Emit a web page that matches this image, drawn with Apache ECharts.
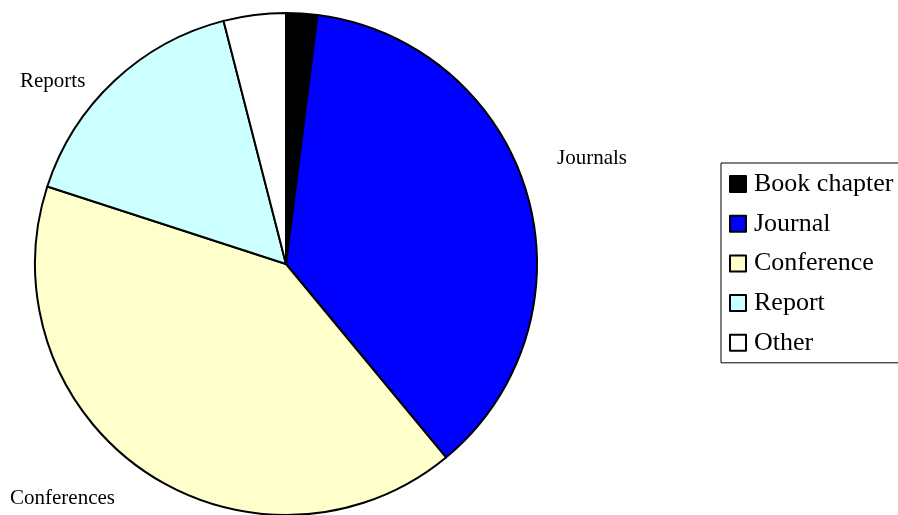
<!DOCTYPE html>
<html>
<head>
<meta charset="utf-8">
<script src="https://cdn.jsdelivr.net/npm/echarts@6/dist/echarts.min.js"></script>
<style>
  html, body { margin: 0; padding: 0; background: #fff; }
  #main { width: 898px; height: 515px; }
</style>
</head>
<body>
<div id="main"></div>
<script>
// categories and shares (percent)
var categories = ['Book chapter', 'Journal', 'Conference', 'Report', 'Other'];
var shares = [2, 37, 41, 16, 4];
var colors = ['#000000', '#0000ff', '#ffffcc', '#ccffff', '#ffffff'];
// slice captions drawn around the pie
var captions = ['Reports', 'Journals', 'Conferences'];

var chart = echarts.init(document.getElementById('main'));

var data = categories.map(function (name, i) {
  return { name: name, value: shares[i], itemStyle: { color: colors[i] } };
});

var serif = 'Liberation Serif, Times New Roman, serif';

var option = {
  animation: false,
  backgroundColor: '#ffffff',
  legend: {
    orient: 'vertical',
    left: 721,
    top: 163,
    icon: 'rect',
    itemWidth: 16,
    itemHeight: 16,
    itemGap: 13.7,
    padding: [8, 60, 7, 8],
    borderColor: '#000',
    borderWidth: 1,
    backgroundColor: '#fff',
    itemStyle: { borderColor: '#000', borderWidth: 2 },
    textStyle: {
      fontFamily: serif,
      fontSize: 26,
      lineHeight: 26,
      color: '#000',
      padding: [0, 0, 0, 3]
    },
    selectedMode: false,
    data: categories
  },
  graphic: [
    { type: 'text', left: 20, top: 71, style: { text: captions[0], font: '21px ' + serif, fill: '#000' } },
    { type: 'text', left: 557, top: 148, style: { text: captions[1], font: '21px ' + serif, fill: '#000' } },
    { type: 'text', left: 10, top: 488, style: { text: captions[2], font: '21px ' + serif, fill: '#000' } }
  ],
  series: [{
    type: 'pie',
    center: [286, 264],
    radius: 251,
    startAngle: 90,
    clockwise: true,
    label: { show: false },
    labelLine: { show: false },
    emphasis: { disabled: true },
    itemStyle: { borderColor: '#000', borderWidth: 2 },
    data: data
  }]
};

chart.setOption(option);
</script>
</body>
</html>
